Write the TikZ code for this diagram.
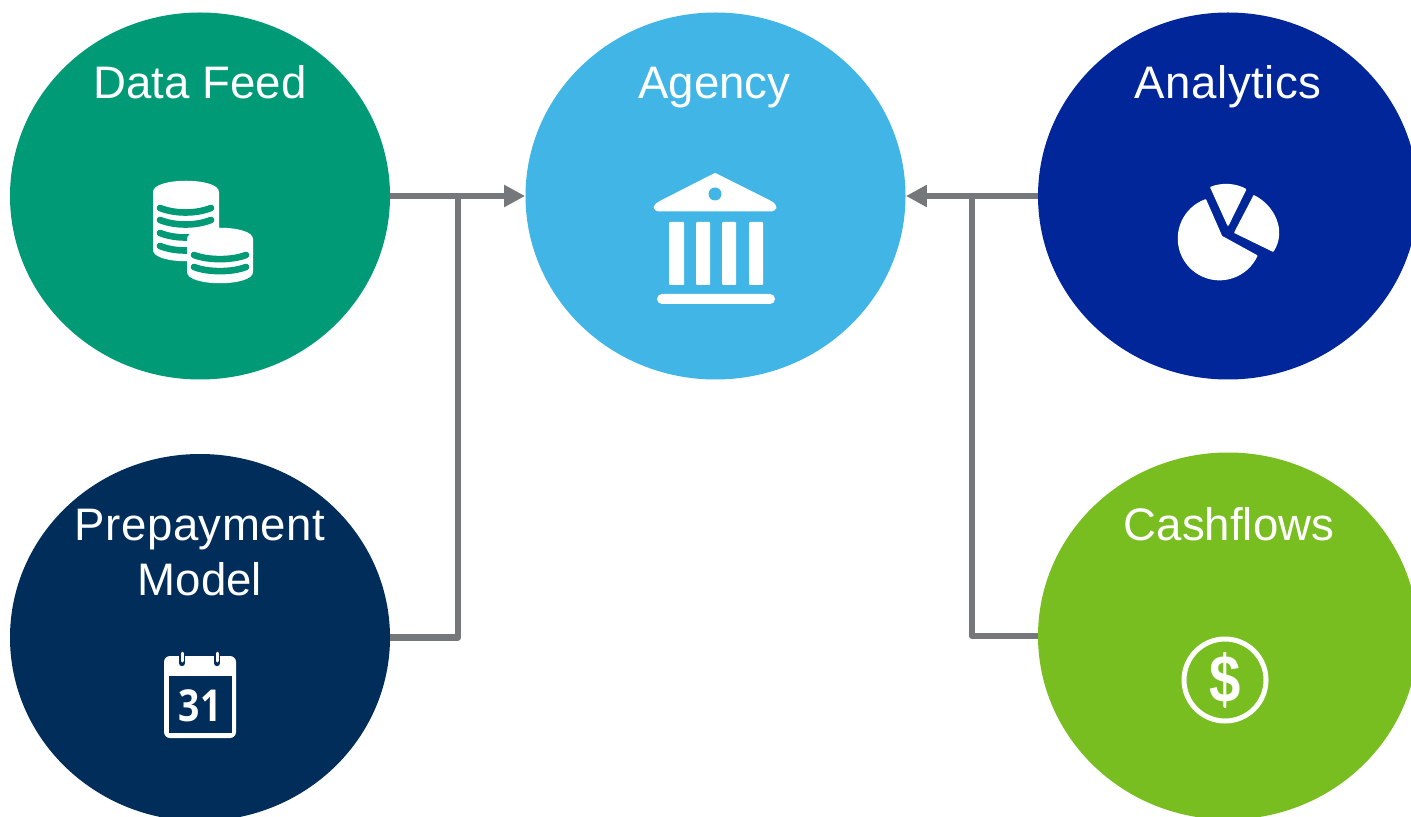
\documentclass[tikz,border=0pt]{standalone}
\usepackage{graphicx}
\usepackage{fontspec}
\setmainfont{Liberation Sans}
\newfontfamily\calfont{Open Sans}
\usetikzlibrary{shapes.geometric,arrows.meta}
\definecolor{cGreen}{HTML}{009A77}
\definecolor{cSky}{HTML}{41B6E6}
\definecolor{cBlue}{HTML}{00269A}
\definecolor{cNavy}{HTML}{002D59}
\definecolor{cLime}{HTML}{78BE20}
\definecolor{cGrey}{HTML}{75787B}
\tikzset{
  hub/.style={ellipse,inner sep=0pt,minimum width=190pt,minimum height=183.5pt,fill=#1,draw=none},
  title/.style={text=white,font=\fontsize{22.8}{27.5}\selectfont,align=center,inner sep=0pt},
  conn/.style={draw=cGrey,line width=3.1pt,line join=round},
  arrowconn/.style={conn,-{Triangle[length=10.5pt,width=10.5pt]}},
  band/.style={draw=cGreen,line width=3.3pt,line cap=round},
  slice/.style={fill=white,draw=white,line width=0.8pt,line join=round},
}
\begin{document}
\begin{tikzpicture}[x=0.5pt,y=0.5pt,yscale=-1]
\clip (0,0) rectangle (1411,817);
\fill[white] (0,0) rectangle (1411,817);
% circles
\node[hub=cGreen] (df) at (200,196) {};
\node[hub=cSky] (ag) at (715.5,196) {};
\node[hub=cBlue] (an) at (1228,196) {};
\node[hub=cNavy] (pm) at (200,637.5) {};
\node[hub=cLime] (cf) at (1228,636) {};
% connectors
\coordinate (jl) at (458,196);
\coordinate (jr) at (972,196);
\draw[conn] (pm.east) -| (jl);
\draw[conn] (cf.west) -| (jr);
\draw[arrowconn] (df.east) -- (ag.west);
\draw[arrowconn] (an.west) -- (ag.east);
% titles
\node[title,anchor=base] (tdf) at (200,99) {Data Feed};
\node[title,anchor=base] (tag) at (714.5,99) {Agency};
\node[title,anchor=base] (tan) at (1228,99) {\addfontfeature{LetterSpace=1.2}Analytics};
\node[title,anchor=center] (tpm) at (200,553) {\addfontfeature{LetterSpace=1.1}Prepayment\\Model};
\node[title,anchor=base] (tcf) at (1229,540) {Cashflows};
% database icon
\fill[white] (153,192) .. controls (153,177) and (219,177) .. (219,192) -- (219,250)
  .. controls (219,265) and (153,265) .. (153,250) -- cycle;
\foreach \yy in {208,220,233,246}
  \draw[band] (160,\yy) .. controls (175,\yy+6) and (196,\yy+6) .. (211,\yy);
\fill[white] (187,239) .. controls (187,224) and (253,224) .. (253,239) -- (253,272)
  .. controls (253,287) and (187,287) .. (187,272) -- cycle;
\foreach \yy in {255,267}
  \draw[band] (194,\yy) .. controls (208,\yy+5.5) and (232,\yy+5.5) .. (246,\yy);
% bank icon
\draw[slice,line width=1pt] (715,174) -- (661,201.5) .. controls (652,206) and (653,210.5) .. (661,210.5)
  -- (769,210.5) .. controls (777,210.5) and (778,206) .. (770,201.5) -- cycle;
\fill[cSky] (715,194) circle[radius=6.5];
\foreach \xa/\xb in {669/684,696/710,722/736,749/763}
  \fill[white,rounded corners=0.5pt] (\xa,222) rectangle (\xb,285);
\fill[white,rounded corners=2.5pt] (657,294) rectangle (775,304);
% pie icon
\draw[slice] (1221.5,236.5) -- (1205.5,200) arc[start angle=250,end angle=25,radius=41] -- cycle;
\draw[slice] (1228,225) -- (1211,187.5) .. controls (1222,183) and (1236,184) .. (1245.5,189.5) -- cycle;
\draw[slice] (1235,232.5) -- (1254,196) .. controls (1274,206) and (1286,231) .. (1273,251) -- cycle;
% calendar icon
\fill[white,rounded corners=3pt] (164,656) rectangle (236,738);
\fill[cNavy] (169,676) rectangle (232,733);
\foreach \xx in {182,217}{
  \draw[cNavy,line width=3.2pt,line cap=round] (\xx,656) -- (\xx,663);
  \draw[white,line width=1.5pt,line cap=round] (\xx,653) -- (\xx,661);
}
\node[text=white,inner sep=0pt,font=\calfont\bfseries\fontsize{22}{24}\selectfont] (day) at (200,706) {\scalebox{0.85}[1]{31}};
% dollar icon
\draw[white,line width=2.5pt] (1225,680) circle[radius=41];
\node[text=white,inner sep=0pt,font=\bfseries\fontsize{32}{36}\selectfont] (usd) at (1225,680) {\scalebox{0.88}[1.05]{\$}};
\draw[white,line width=1pt] (1225,652) -- (1225,708);
\end{tikzpicture}
\end{document}
